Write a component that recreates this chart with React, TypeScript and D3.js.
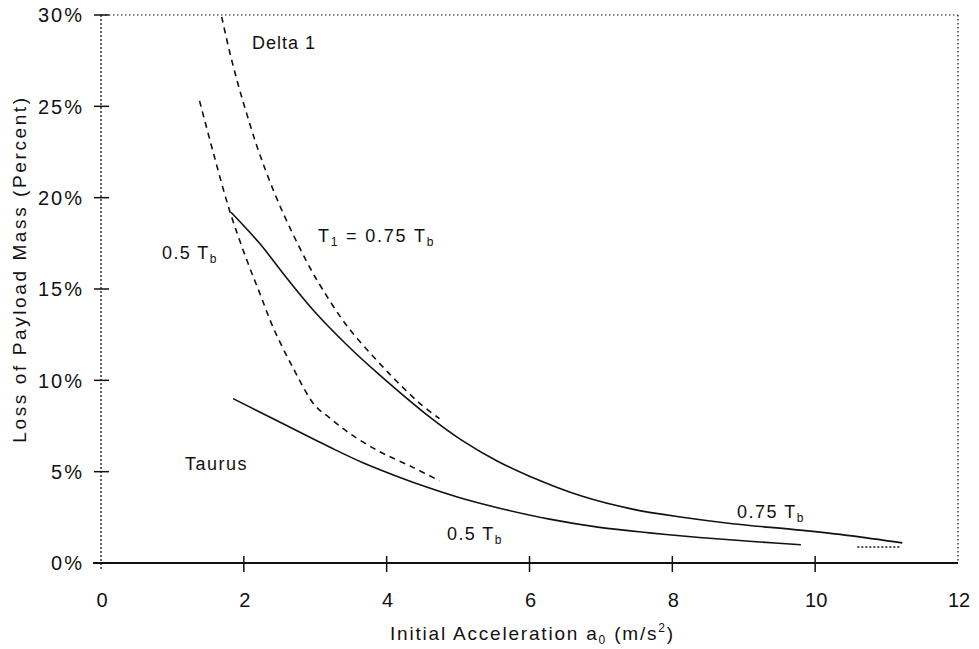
import React from "react";
import * as d3 from "d3";

// ---- data ----
const xTicks = [0, 2, 4, 6, 8, 10, 12];
const yTicks = [0, 5, 10, 15, 20, 25, 30];

// Delta 1, T1 = 0.75 Tb (dashed)
const delta075: [number, number][] = [
  [1.69, 29.9], [1.8, 28.0], [1.92, 26.2], [2.04, 24.6], [2.22, 22.4],
  [2.5, 19.6], [2.88, 16.5], [3.1, 15.0], [3.44, 13.0],
  [3.86, 11.1], [4.14, 9.95], [4.46, 8.75], [4.74, 7.9],
];
// Delta 1, 0.5 Tb (dashed)
const delta05: [number, number][] = [
  [1.38, 25.3], [1.57, 22.5], [1.8, 19.3],
  [2.04, 16.6], [2.22, 14.8], [2.41, 12.9], [2.7, 10.6], [2.99, 8.65],
  [3.2, 7.95], [3.48, 7.1], [3.9, 6.1], [4.36, 5.25], [4.74, 4.5],
];
// Taurus, 0.75 Tb (solid)
const taurus075: [number, number][] = [
  [1.82, 19.2], [2.22, 17.5], [2.6, 15.6], [2.97, 13.85], [3.44, 11.95],
  [3.9, 10.3], [4.6, 8.0], [5.06, 6.7], [5.54, 5.6],
  [6.0, 4.75], [6.74, 3.65], [7.44, 2.95], [8.14, 2.5], [8.84, 2.15],
  [9.78, 1.8], [10.48, 1.5], [11.22, 1.1],
];
// Taurus, 0.5 Tb (solid)
const taurus05: [number, number][] = [
  [1.85, 9.0], [2.46, 7.8], [3.2, 6.35], [3.66, 5.5], [4.14, 4.75],
  [4.6, 4.1], [5.0, 3.6], [5.58, 3.0], [6.28, 2.4], [6.98, 1.95],
  [7.68, 1.65], [8.38, 1.4], [9.22, 1.15], [9.8, 1.0],
];
// short dotted tail
const dottedTail: [number, number][] = [
  [10.59, 0.88], [11.2, 0.88],
];

const FONT = "'Liberation Sans', Arial, Helvetica, sans-serif";

export default function App() {
  const W = 979;
  const H = 649;
  const x = d3.scaleLinear().domain([0, 12]).range([101, 958]);
  const y = d3.scaleLinear().domain([0, 30]).range([563, 15]);

  const line = d3
    .line<[number, number]>()
    .x((d) => x(d[0]))
    .y((d) => y(d[1]))
    .curve(d3.curveCatmullRom.alpha(0.5));
  const straight = d3
    .line<[number, number]>()
    .x((d) => x(d[0]))
    .y((d) => y(d[1]));

  const ink = "#111";

  const sub = (s: string) => (
    <tspan fontSize={12} dy={4} fill={ink}>{s}</tspan>
  );

  return (
    <svg
      width={W}
      height={H}
      style={{ position: "absolute", left: 0, top: 0, background: "#fff" }}
      fontFamily={FONT}
    >
      <rect x={0} y={0} width={W} height={H} fill="#fff" />

      {/* frame */}
      <line x1={x(0)} y1={y(30)} x2={x(12)} y2={y(30)} stroke={ink} strokeWidth={1.2} strokeDasharray="1.5,2.5" />
      <line x1={x(12)} y1={y(30)} x2={x(12)} y2={y(0)} stroke={ink} strokeWidth={1.2} strokeDasharray="1.5,2.5" />
      <line x1={x(0)} y1={y(30)} x2={x(0)} y2={y(0) + 8} stroke={ink} strokeWidth={1.3} strokeDasharray="2,2" />
      <line x1={x(0) - 8} y1={y(0)} x2={x(12)} y2={y(0)} stroke={ink} strokeWidth={2} />

      {/* y ticks */}
      {yTicks.map((t) => (
        <g key={"y" + t}>
          <line x1={x(0) - 7} x2={x(0) + 8} y1={y(t)} y2={y(t)} stroke={ink} strokeWidth={1.5} />
          <text
            x={84}
            y={y(t)}
            dy="0.36em"
            textAnchor="end"
            fontSize={20}
            letterSpacing={2}
            fill={ink}
          >
            {t + "%"}
          </text>
        </g>
      ))}

      {/* x ticks */}
      {xTicks.map((t) => (
        <g key={"x" + t}>
          {t > 0 && t < 12 && (
            <line x1={x(t)} x2={x(t)} y1={y(0) - 7} y2={y(0) + 9} stroke={ink} strokeWidth={1.5} />
          )}
          <text x={x(t) + 1} y={607} textAnchor="middle" fontSize={20} fill={ink}>
            {String(t)}
          </text>
        </g>
      ))}

      {/* axis titles */}
      <text
        transform={`translate(26, 269) rotate(-90)`}
        textAnchor="middle"
        fontSize={19}
        letterSpacing={2.6}
        fill={ink}
      >
        Loss of Payload Mass (Percent)
      </text>
      <text x={390} y={640} fontSize={19} letterSpacing={1.8} fill={ink}>
        <tspan>Initial Acceleration a</tspan>
        <tspan fontSize={12} dy={4}>0</tspan>
        <tspan dy={-4}> (m/s</tspan>
        <tspan fontSize={12} dy={-8}>2</tspan>
        <tspan dy={8}>)</tspan>
      </text>

      {/* curves */}
      <path d={line(delta075) || ""} fill="none" stroke={ink} strokeWidth={1.6} strokeDasharray="6,5" />
      <path d={line(delta05) || ""} fill="none" stroke={ink} strokeWidth={1.6} strokeDasharray="6,5" />
      <path d={line(taurus075) || ""} fill="none" stroke={ink} strokeWidth={1.6} />
      <path d={line(taurus05) || ""} fill="none" stroke={ink} strokeWidth={1.6} />
      <path d={straight(dottedTail) || ""} fill="none" stroke={ink} strokeWidth={1.4} strokeDasharray="2,2" />

      {/* labels */}
      <text x={252} y={49} fontSize={18} letterSpacing={1} fill={ink}>Delta 1</text>
      <text x={318} y={242} fontSize={18} letterSpacing={1.8} fill={ink}>
        <tspan>T</tspan>
        {sub("1")}
        <tspan dy={-4}> = 0.75 T</tspan>
        {sub("b")}
      </text>
      <text x={162} y={259} fontSize={18} letterSpacing={1.4} fill={ink}>
        <tspan>0.5 T</tspan>
        {sub("b")}
      </text>
      <text x={185} y={470} fontSize={18} letterSpacing={1.5} fill={ink}>Taurus</text>
      <text x={737} y={518} fontSize={18} letterSpacing={1.5} fill={ink}>
        <tspan>0.75 T</tspan>
        {sub("b")}
      </text>
      <text x={447} y={540} fontSize={18} letterSpacing={1.4} fill={ink}>
        <tspan>0.5 T</tspan>
        {sub("b")}
      </text>
    </svg>
  );
}
